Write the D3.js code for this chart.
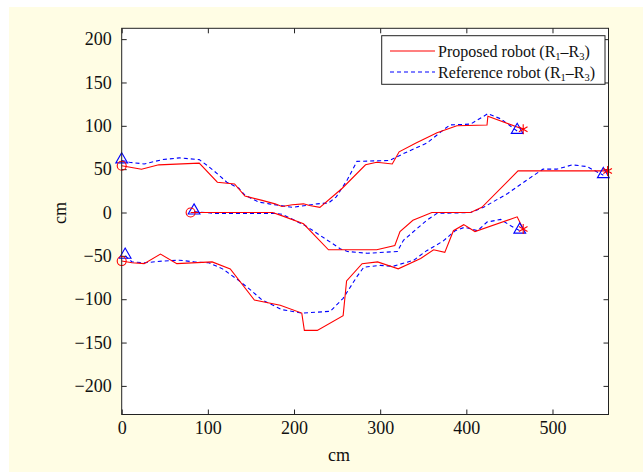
<!DOCTYPE html>
<html>
<head>
<meta charset="utf-8">
<script src="https://cdn.jsdelivr.net/npm/d3@7"></script>
<style>
  body { margin: 0; background: #fff; }
  svg { display: block; }
  text { font-family: "Liberation Serif", "Times New Roman", serif; fill: #111; }
</style>
</head>
<body>
<svg width="643" height="472"></svg>
<script>
// axis ranges and ticks
const xDomain = [0, 565];
const yDomain = [-233, 212.5];
const xTicks = [0, 100, 200, 300, 400, 500];
const yTicks = [-200, -150, -100, -50, 0, 50, 100, 150, 200];

// proposed robot paths (cm) — R1 top, R2 middle, R3 bottom
const proposedR1 = [[0,54],[23,50],[43,55],[90,57],[111,35],[131,33],[143,19],[163,14],[178,10],[186,7],[198,9],[211,10],[218,8],[230,6],[256,28],[283,55],[296,58],[314,56],[322,70],[341,80],[366,92],[389,100],[424,101],[425,111],[466,96]];
const proposedR2 = [[80,0],[175,0],[184,-3],[211,-13],[240,-43],[296,-43],[317,-38],[323,-22],[338,-9],[360,0],[405,0],[418,6],[460,48],[564,48]];
const proposedR3 = [[0,-56],[12,-58],[26,-59],[45,-48],[64,-59],[105,-57],[126,-65],[154,-101],[184,-107],[209,-116],[212,-136],[227,-136],[257,-119],[261,-79],[279,-59],[297,-57],[321,-65],[347,-53],[362,-43],[375,-46],[385,-21],[397,-14],[410,-22],[459,-5],[466,-19]];

// reference robot paths (cm)
const referenceR1 = [[0,60],[9,58],[26,56],[47,61],[67,63],[90,61],[101,53],[113,43],[122,35],[136,28],[143,20],[159,12],[171,10],[198,6],[227,10],[240,11],[249,18],[262,38],[273,59],[311,60],[327,68],[354,80],[373,95],[381,101],[405,102],[425,114],[440,108],[459,94]];
const referenceR2 = [[84,1],[108,-1],[178,-1],[186,-2],[213,-15],[254,-42],[262,-45],[285,-47],[320,-45],[327,-32],[354,-9],[366,-1],[405,0],[420,6],[448,22],[474,40],[489,50],[505,50],[523,55],[540,53],[559,43]];
const referenceR3 = [[4,-50],[12,-57],[27,-58],[47,-56],[67,-55],[85,-57],[101,-58],[117,-65],[134,-77],[148,-88],[163,-101],[186,-112],[209,-116],[242,-114],[257,-99],[273,-74],[281,-63],[300,-61],[315,-62],[339,-55],[354,-44],[373,-33],[387,-21],[398,-17],[413,-21],[424,-11],[440,-8],[451,-15],[462,-21]];

const proposed = [proposedR1, proposedR2, proposedR3];
const reference = [referenceR1, referenceR2, referenceR3];

const svg = d3.select("svg");
const mL = 121.7, mR = 608.5, mT = 28.3, mB = 414.5;

// figure background
svg.append("rect").attr("x", 9).attr("y", 7).attr("width", 634).attr("height", 465)
    .attr("fill", "#fffde4");
svg.append("rect").attr("x", mL).attr("y", mT)
    .attr("width", mR - mL).attr("height", mB - mT).attr("fill", "#fff");

const x = d3.scaleLinear().domain(xDomain).range([mL, mR]);
const y = d3.scaleLinear().domain(yDomain).range([mB, mT]);

// axes, ticks inside on all sides
const tl = 5;
svg.append("g").attr("transform", `translate(0,${mB})`)
    .call(d3.axisBottom(x).tickValues(xTicks).tickSizeInner(-tl).tickSizeOuter(0).tickPadding(7))
    .call(g => g.select(".domain").remove())
    .call(g => g.selectAll("text").attr("font-size", 18).style("font-family", "Liberation Serif"));
svg.append("g").attr("transform", `translate(0,${mT})`)
    .call(d3.axisTop(x).tickValues(xTicks).tickSizeInner(-tl).tickSizeOuter(0).tickFormat(""))
    .call(g => g.select(".domain").remove());
svg.append("g").attr("transform", `translate(${mL},0)`)
    .call(d3.axisLeft(y).tickValues(yTicks).tickSizeInner(-tl).tickSizeOuter(0).tickPadding(10)
        .tickFormat(d => d < 0 ? "\u2212" + Math.abs(d) : d))
    .call(g => g.select(".domain").remove())
    .call(g => g.selectAll("text").attr("font-size", 18).style("font-family", "Liberation Serif"));
svg.append("g").attr("transform", `translate(${mR},0)`)
    .call(d3.axisRight(y).tickValues(yTicks).tickSizeInner(-tl).tickSizeOuter(0).tickFormat(""))
    .call(g => g.select(".domain").remove());
svg.selectAll(".tick line").attr("stroke", "#222");

const line = d3.line().x(d => x(d[0])).y(d => y(d[1]));

// reference (dashed blue)
reference.forEach(p => {
  svg.append("path").attr("d", line(p)).attr("fill", "none")
      .attr("stroke", "#0000ff").attr("stroke-width", 1.1).attr("stroke-dasharray", "4,3");
});
// proposed (solid red)
proposed.forEach(p => {
  svg.append("path").attr("d", line(p)).attr("fill", "none")
      .attr("stroke", "#ff0000").attr("stroke-width", 1.1);
});

// markers
const tri = d3.symbol().type(d3.symbolTriangle).size(60);
reference.forEach(p => {
  [p[0], p[p.length - 1]].forEach(d => {
    svg.append("path").attr("d", tri()).attr("transform", `translate(${x(d[0])},${y(d[1]) - 1})`)
        .attr("fill", "none").attr("stroke", "#0000ff").attr("stroke-width", 1.1);
  });
});
const star = d3.symbol().type(d3.symbolAsterisk).size(70);
proposed.forEach(p => {
  const s = p[0], e = p[p.length - 1];
  svg.append("circle").attr("cx", x(s[0])).attr("cy", y(s[1])).attr("r", 4.5)
      .attr("fill", "none").attr("stroke", "#ff0000").attr("stroke-width", 1.1);
  svg.append("path").attr("d", star()).attr("transform", `translate(${x(e[0])},${y(e[1])})`)
      .attr("fill", "none").attr("stroke", "#ff0000").attr("stroke-width", 1.1);
});

// box
svg.append("rect").attr("x", mL).attr("y", mT)
    .attr("width", mR - mL).attr("height", mB - mT)
    .attr("fill", "none").attr("stroke", "#222").attr("stroke-width", 1);

// axis labels
svg.append("text").attr("x", 339).attr("y", 455).attr("dy", "0.35em")
    .attr("text-anchor", "middle").attr("font-size", 18).text("cm");
svg.append("text").attr("transform", "translate(60,213) rotate(-90)").attr("dy", "0.35em")
    .attr("text-anchor", "middle").attr("font-size", 18).text("cm");

// legend
const lg = svg.append("g");
lg.append("rect").attr("x", 381.7).attr("y", 35.7).attr("width", 223.3).attr("height", 48.6)
    .attr("fill", "#fff").attr("stroke", "#222").attr("stroke-width", 1);
const rows = [
  {label: "Proposed robot", color: "#ff0000", dash: null, yy: 51},
  {label: "Reference robot", color: "#0000ff", dash: "4,3", yy: 72}
];
rows.forEach(r => {
  lg.append("line").attr("x1", 390).attr("x2", 435).attr("y1", r.yy).attr("y2", r.yy)
      .attr("stroke", r.color).attr("stroke-width", 1.1).attr("stroke-dasharray", r.dash);
  const t = lg.append("text").attr("x", 438).attr("y", r.yy).attr("dy", "0.35em").attr("font-size", 16);
  t.append("tspan").text(r.label + " (R");
  t.append("tspan").attr("font-size", 10.5).attr("dy", 3).text("1");
  t.append("tspan").attr("dy", -3).text("\u2013R");
  t.append("tspan").attr("font-size", 10.5).attr("dy", 3).text("3");
  t.append("tspan").attr("dy", -3).text(")");
});
</script>
</body>
</html>
